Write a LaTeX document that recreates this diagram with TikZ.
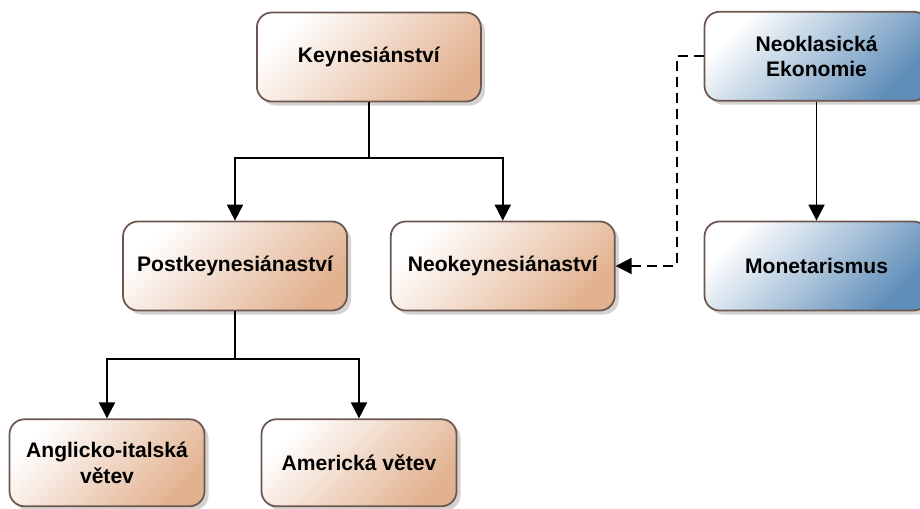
\documentclass[tikz,border=0pt]{standalone}
\usepackage{fontspec}
\setmainfont{Liberation Sans}
\usetikzlibrary{arrows.meta,positioning,shadows,calc}
\definecolor{SchoolEdge}{HTML}{6B5750}
\definecolor{SchoolTan}{HTML}{E2B290}
\definecolor{SchoolBlue}{HTML}{5E8DB8}
\definecolor{SchoolShadow}{HTML}{D6D2D0}

\begin{document}
\begin{tikzpicture}[
    node distance=2.38cm and 0.84cm,
    school/.style={draw=SchoolEdge, line width=1pt, rounded corners=0.3cm,
      minimum width=4.48cm, minimum height=1.78cm, align=center,
      font=\fontsize{12}{14.5}\selectfont\bfseries,
      drop shadow={shadow xshift=0.08cm, shadow yshift=-0.08cm, fill=SchoolShadow, opacity=1}},
    tanbox/.style={school, left color=white, middle color=SchoolTan!30!white,
      right color=SchoolTan, shading angle=45},
    bluebox/.style={school, left color=white, middle color=SchoolBlue!30!white,
      right color=SchoolBlue, shading angle=45},
    small/.style={minimum width=3.9cm, minimum height=1.74cm},
    arrow/.style={-{Triangle[length=0.32cm, width=0.32cm]}, line width=1.1pt, draw=black},
    link/.style={arrow, dash pattern=on 0.2cm off 0.12cm}
  ]
    \useasboundingbox (0,0) rectangle (18.4,-10.16);

    \node[tanbox] (post) at (4.7,-5.32) {Postkeynesiánaství};
    \node[tanbox, right=of post] (neo) {Neokeynesiánaství};
    \node[tanbox] (keyn) at ($(post)!.5!(neo)+(0,4.18)$) {Keynesiánství};
    \node[bluebox, right=1.76cm of neo] (mon) {Monetarismus};
    \node[bluebox, above=of mon] (neocl) {Neoklasická\\Ekonomie};
    \node[tanbox, small, below=2.14cm of post, xshift=-2.56cm] (angl) {Anglicko-italská\\větev};
    \node[tanbox, small, below=2.14cm of post, xshift=2.48cm] (amer) {Americká větev};

    \draw[arrow] (keyn.south) -- ++(0,-1.12) -| (post.north);
    \draw[arrow] (keyn.south) -- ++(0,-1.12) -| (neo.north);
    \draw[arrow] (post.south) -- ++(0,-0.96) -| (angl.north);
    \draw[arrow] (post.south) -- ++(0,-0.96) -| (amer.north);
    \draw[arrow] (neocl) -- (mon);
    \draw[link] (neocl.west) -- ++(-0.54,0) |- (neo.east);
\end{tikzpicture}
\end{document}
